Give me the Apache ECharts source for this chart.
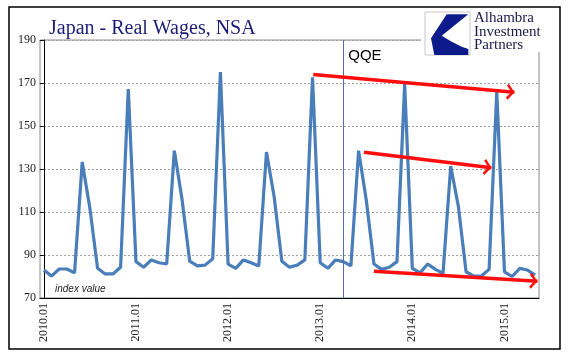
<!DOCTYPE html>
<html><head><meta charset="utf-8">
<script src="https://cdn.jsdelivr.net/npm/echarts@6/dist/echarts.min.js"></script>
<style>html,body{margin:0;padding:0;background:#fff}#c{width:570px;height:361px}</style>
</head><body><div id="c"></div>
<script>
const months = [
 '2010.01','2010.02','2010.03','2010.04','2010.05','2010.06','2010.07','2010.08','2010.09','2010.10','2010.11','2010.12',
 '2011.01','2011.02','2011.03','2011.04','2011.05','2011.06','2011.07','2011.08','2011.09','2011.10','2011.11','2011.12',
 '2012.01','2012.02','2012.03','2012.04','2012.05','2012.06','2012.07','2012.08','2012.09','2012.10','2012.11','2012.12',
 '2013.01','2013.02','2013.03','2013.04','2013.05','2013.06','2013.07','2013.08','2013.09','2013.10','2013.11','2013.12',
 '2014.01','2014.02','2014.03','2014.04','2014.05','2014.06','2014.07','2014.08','2014.09','2014.10','2014.11','2014.12',
 '2015.01','2015.02','2015.03','2015.04','2015.05'
];
const realWages = [
 83.0, 80.2, 83.5, 83.5, 81.7, 133.3, 111.7, 83.8, 81.2, 81.2, 84.3, 167.2,
 86.9, 84.3, 87.7, 86.4, 85.8, 138.5, 115.9, 87.1, 84.9, 85.3, 88.3, 175.1,
 85.8, 83.8, 87.7, 86.4, 84.9, 137.9, 117.1, 87.1, 84.3, 85.3, 87.7, 172.7,
 86.4, 83.8, 87.7, 86.9, 84.9, 138.5, 115.6, 85.8, 83.3, 84.3, 86.9, 169.5,
 83.8, 81.7, 85.8, 83.3, 81.5, 131.4, 112.5, 82.2, 80.2, 80.2, 83.3, 166.0,
 82.2, 80.0, 83.8, 83.0, 80.7
];
const yMin = 70, yMax = 190, yStep = 20;
const qqeMonth = '2013.04';
const qqeLabel = 'QQE';
// trend arrows in data space: [month index, value]
const arrowStarts = [[35.1, 173.9], [41.7, 137.8], [43.0, 82.4]];
const arrowEnds   = [[61.3, 165.7], [58.3, 130.6], [64.3, 77.8]];

const chevron = 'path://M10,0 L10.01,0 L10,0.01 Z M10,11.5 L20,20.5 L17.6,23 L10,15.8 L2.4,23 L0,20.5 Z';
const serif = 'Liberation Serif';

const chart = echarts.init(document.getElementById('c'), null, {renderer: 'canvas'});
const option = {
  animation: false,
  backgroundColor: '#fff',
  title: {
    text: 'Japan - Real Wages, NSA', left: 44, top: 14,
    textStyle: {fontFamily: serif, fontSize: 20, fontWeight: 'normal', color: '#1c1c78'}
  },
  grid: {left: 40, right: 31, top: 40, bottom: 63, show: true, borderColor: '#8a8a8a', borderWidth: 1},
  xAxis: [{
    type: 'category', data: months, boundaryGap: true,
    axisLine: {lineStyle: {color: '#000', width: 1}},
    axisTick: {interval: 0, length: 4, lineStyle: {color: '#000'}},
    axisLabel: {interval: 11, rotate: 90, margin: 5, fontFamily: serif, fontSize: 12, color: '#222'},
    splitLine: {show: false}
  }, {
    type: 'value', min: -0.5, max: months.length - 0.5, show: false
  }],
  yAxis: {
    type: 'value', min: yMin, max: yMax, interval: yStep,
    axisLine: {show: true, lineStyle: {color: '#000', width: 1}},
    axisTick: {show: true, length: 4, lineStyle: {color: '#000'}},
    axisLabel: {margin: 4, fontFamily: serif, fontSize: 12, color: '#222'},
    splitLine: {lineStyle: {color: '#a0a0a0', type: [2, 2], width: 1}}
  },
  series: [{
    type: 'line', data: realWages, symbol: 'none', silent: true,
    lineStyle: {color: '#4a7ebb', width: 3.2},
    z: 3,
    markLine: {
      silent: true, symbol: 'none', animation: false,
      label: {show: false},
      lineStyle: {color: '#4f6fa8', width: 1, type: 'solid'},
      data: [{xAxis: qqeMonth}]
    }
  }, {
    type: 'line', xAxisIndex: 1, data: [], symbol: 'none', silent: true, z: 5,
    markLine: {
      silent: true, animation: false,
      symbol: ['none', chevron], symbolSize: 16,
      label: {show: false},
      lineStyle: {color: '#ff0d0d', width: 3.5, type: 'solid'},
      emphasis: {disabled: true},
      data: arrowStarts.map((s, i) => [{coord: s}, {coord: arrowEnds[i]}])
    }
  }]
};
chart.setOption(option);

const qqeTop = chart.convertToPixel({xAxisIndex: 0, yAxisIndex: 0}, [qqeMonth, yMax]);
const logoBlue = [[446.7,14.3],[468.3,14.3],[441.7,35.7],[451.7,41.7],[461.7,46.7],[468.3,49],[468.3,55],[434.3,55],[431,38.3]];
chart.setOption({
  graphic: [
    {type: 'rect', shape: {x: 9, y: 7, width: 551, height: 342}, style: {fill: 'none', stroke: '#000', lineWidth: 1.5}, z: 100, silent: true},
    {type: 'rect', shape: {x: 421, y: 9, width: 132, height: 43}, style: {fill: '#fff'}, z: 50, silent: true},
    {type: 'rect', shape: {x: 425, y: 12, width: 45, height: 43}, style: {fill: '#fff', stroke: '#c8c8c8', lineWidth: 1}, z: 51, silent: true},
    {type: 'polygon', shape: {points: logoBlue}, style: {fill: '#0d1a8a'}, z: 52, silent: true},
    {type: 'text', x: 474, y: 18.5, style: {text: 'Alhambra', font: '15px "Liberation Serif"', fill: '#1a1a4a', verticalAlign: 'middle'}, z: 52, silent: true},
    {type: 'text', x: 474, y: 32, style: {text: 'Investment', font: '15px "Liberation Serif"', fill: '#1a1a4a', verticalAlign: 'middle'}, z: 52, silent: true},
    {type: 'text', x: 474, y: 45.5, style: {text: 'Partners', font: '15px "Liberation Serif"', fill: '#1a1a4a', verticalAlign: 'middle'}, z: 52, silent: true},
    {type: 'text', x: qqeTop[0] + 5, y: qqeTop[1] + 8, style: {text: qqeLabel, font: '15px "Liberation Sans"', fill: '#000', verticalAlign: 'top'}, z: 52, silent: true},
    {type: 'text', x: 55, y: 284, style: {text: 'index value', font: 'italic 10px "Liberation Sans"', fill: '#222', verticalAlign: 'top'}, z: 52, silent: true}
  ]
});
</script>
</body></html>
